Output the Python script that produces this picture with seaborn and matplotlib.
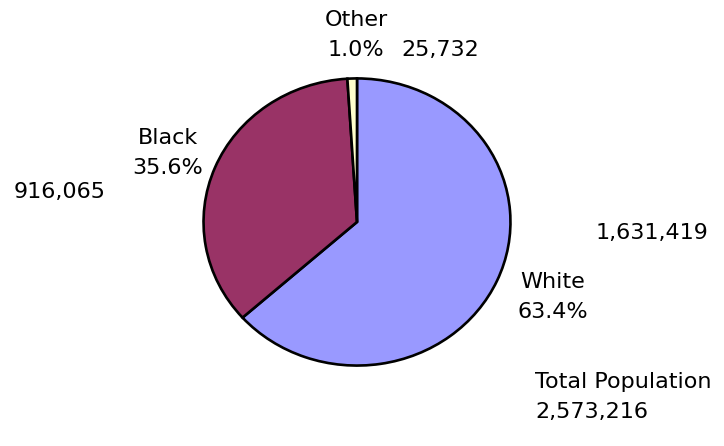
import matplotlib
matplotlib.use("Agg")
import matplotlib.pyplot as plt
import seaborn as sns

categories = ["White", "Black", "Other"]
populations = [1631419, 916065, 25732]
colors = ["#9999FF", "#993366", "#FFFFCC"]

sns.set_theme(style="white")
plt.rcParams['font.family'] = ['DejaVu Sans']

W, H = 724, 446
fig = plt.figure(figsize=(W / 100, H / 100), dpi=100)
fig.patch.set_facecolor("white")

cx, cy, rx, ry = 357, 222, 155, 145
ax = fig.add_axes([(cx - rx) / W, (H - cy - ry) / H, 2 * rx / W, 2 * ry / H])
ax.pie(populations, colors=colors, startangle=90, counterclock=False,
       wedgeprops=dict(edgecolor="black", linewidth=1.9), radius=1)
ax.set_aspect("auto")
ax.set_xlim(-1.01, 1.01)
ax.set_ylim(-1.01, 1.01)
ax.axis("off")

total = sum(populations)
pct = [100 * p / total for p in populations]

fs = 16

def ftxt(x, y, s, ha="center"):
    fig.text(x / W, 1 - y / H, s, ha=ha, va="center", fontsize=fs, color="black",
             linespacing=1.65)

# Labels (name + percent)
ftxt(356, 35, f"{categories[2]}\n{pct[2]:.1f}%")
ftxt(168, 153, f"{categories[1]}\n{pct[1]:.1f}%")
ftxt(553, 297, f"{categories[0]}\n{pct[0]:.1f}%")

# Values
ftxt(440, 50, f"{populations[2]:,}")
ftxt(60, 192, f"{populations[1]:,}")
ftxt(652, 233, f"{populations[0]:,}")

ftxt(535, 397, f"Total Population\n{total:,}", ha="left")

fig.savefig("out.png", dpi=100, facecolor="white")
